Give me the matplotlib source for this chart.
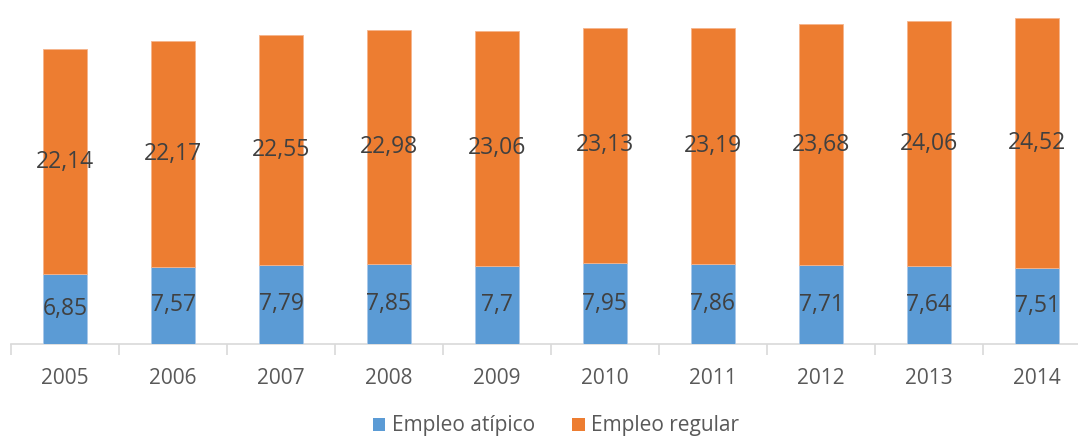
import matplotlib
matplotlib.use("Agg")
import matplotlib.pyplot as plt
from matplotlib.patches import Patch

years = ["2005", "2006", "2007", "2008", "2009", "2010", "2011", "2012", "2013", "2014"]
atipico = [6.85, 7.57, 7.79, 7.85, 7.7, 7.95, 7.86, 7.71, 7.64, 7.51]
regular = [22.14, 22.17, 22.55, 22.98, 23.06, 23.13, 23.19, 23.68, 24.06, 24.52]
series_names = ["Empleo atípico", "Empleo regular"]

BLUE = "#5B9BD5"
ORANGE = "#ED7D31"
TXT = "#404040"
FONT = ["Open Sans", "DejaVu Sans"]

W, H = 1078, 437
fig = plt.figure(figsize=(W / 100, H / 100), dpi=100)
ax = fig.add_axes([11 / W, (H - 344) / H, 1080 / W, 334 / H])

x = list(range(len(years)))
ax.bar(x, atipico, width=0.4, color=BLUE, edgecolor="#A9C8EA", linewidth=0.6, zorder=3)
ax.bar(x, regular, width=0.4, bottom=atipico, color=ORANGE, edgecolor="#F5B48C", linewidth=0.6, zorder=3)

def fmt(v):
    s = f"{v:.2f}".rstrip("0").rstrip(".")
    return s.replace(".", ",")

for i in x:
    ax.text(i, atipico[i] / 2, fmt(atipico[i]), ha="center", va="center",
            fontsize=16.5, color=TXT, family=FONT, zorder=4)
    ax.text(i, atipico[i] + regular[i] / 2, fmt(regular[i]), ha="center", va="center",
            fontsize=16.5, color=TXT, family=FONT, zorder=4)

ax.set_xlim(-0.5, len(years) - 0.5)
ax.set_ylim(0, 32.8)
ax.set_yticks([])
for s in ["top", "right", "left"]:
    ax.spines[s].set_visible(False)
ax.spines["bottom"].set_color("#D9D9D9")
ax.spines["bottom"].set_linewidth(1.2)

ax.set_xticks(x)
ax.set_xticklabels(years, fontsize=15, color="#595959", family=FONT)
ax.tick_params(axis="x", which="major", length=0, pad=17)
ax.set_xticks([i - 0.5 for i in range(len(years) + 1)], minor=True)
ax.tick_params(axis="x", which="minor", length=8, color="#D9D9D9", width=1.2)

handles = [Patch(facecolor=BLUE, edgecolor="none"), Patch(facecolor=ORANGE, edgecolor="none")]
fig.legend(handles, series_names, loc="center", bbox_to_anchor=(556 / W, 11 / H), ncol=2,
           frameon=False, prop={"family": FONT, "size": 15}, labelcolor="#595959",
           handlelength=0.6, handleheight=0.6, handletextpad=0.3, columnspacing=1.8,
           borderpad=0.1)

fig.savefig("out.png", dpi=100)
